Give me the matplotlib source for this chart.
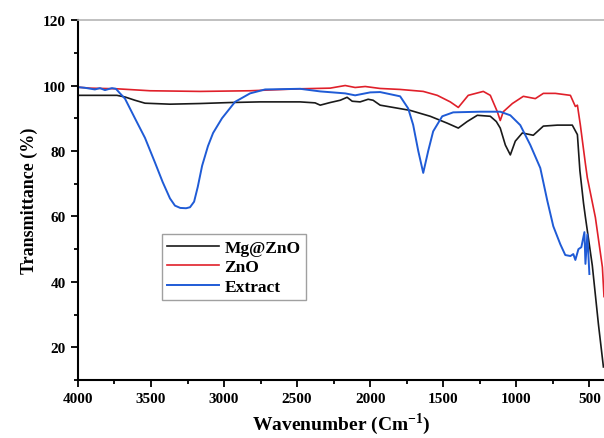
import matplotlib
matplotlib.use('Agg')
import matplotlib.pyplot as plt
from matplotlib.ticker import MultipleLocator

plt.rcParams['font.family'] = ['Liberation Serif', 'DejaVu Serif']
plt.rcParams['font.weight'] = 'bold'
plt.rcParams['mathtext.fontset'] = 'custom'
plt.rcParams['mathtext.bf'] = 'Liberation Serif:bold'

# Mg@ZnO
mg_wn = [4000, 3733, 3678, 3610, 3541, 3370, 3164, 2959, 2753, 2480, 2377, 2342, 2274,
         2205, 2158, 2123, 2069, 2014, 1980, 1932, 1829, 1726, 1589, 1473, 1397, 1336,
         1267, 1178, 1137, 1110, 1075, 1041, 1007, 959, 884, 815, 719, 617, 582, 565,
         540, 527, 480, 438, 404]
mg_t = [97, 97, 96.5, 95.5, 94.6, 94.3, 94.5, 94.8, 95, 95, 94.7, 94, 94.8,
        95.5, 96.4, 95.2, 95, 95.8, 95.5, 94, 93.2, 92.4, 90.6, 88.5, 87, 89,
        90.9, 90.6, 89, 87, 81.8, 78.8, 83, 85.5, 84.8, 87.6, 87.9, 87.9, 85, 74,
        64, 59.7, 45, 27, 14]

# ZnO
zno_wn = [4000, 3918, 3733, 3507, 3164, 2822, 2480, 2274, 2171, 2103, 2034, 1932, 1795,
          1637, 1541, 1452, 1397, 1329, 1226, 1178, 1130, 1110, 1089, 1027, 952, 870,
          815, 733, 630, 596, 582, 562, 527, 514, 459, 411, 400]
zno_t = [99.5, 99.2, 99, 98.4, 98.2, 98.4, 99, 99.2, 100, 99.4, 99.7, 99.1, 98.8,
         98.2, 97, 95, 93.3, 97, 98.2, 97, 92, 89.3, 92, 94.5, 96.7, 96,
         97.6, 97.6, 97, 93.6, 94, 88, 76, 71.8, 59.7, 44.5, 35.5]

# Extract
ext_wn = [4000, 3952, 3884, 3849, 3815, 3767, 3740, 3712, 3678, 3610, 3541, 3473, 3420,
          3370, 3336, 3300, 3260, 3233, 3205, 3180, 3150, 3110, 3075, 3014, 2925, 2822,
          2719, 2480, 2342, 2171, 2103, 2000, 1932, 1795, 1740, 1706, 1671, 1637, 1603,
          1569, 1507, 1432, 1247, 1110, 1041, 973, 904, 836, 788, 747, 699, 665, 630, 610,
          596, 575, 555, 534, 527, 514, 500]
ext_t = [99.5, 99.3, 98.8, 99.2, 98.6, 99.2, 99, 97.6, 96, 90, 84, 76.5, 70.5,
         65.5, 63.3, 62.6, 62.5, 62.8, 64.5, 69, 75.5, 81.5, 85.5, 90, 95, 97.6,
         98.8, 99, 98.2, 97.6, 97, 97.9, 98, 96.7, 93, 88, 80, 73.3, 80,
         86, 90.6, 91.8, 92, 92, 90.9, 87.9, 81.8, 74.8, 64.8, 57, 51.5, 48.2, 47.9, 48.5,
         46.7, 50, 50.6, 55.2, 45.5, 54.5, 42.4]

fig = plt.figure(figsize=(6.04, 4.39), dpi=100)
ax = fig.add_axes([0.129, 0.132, 0.871, 0.820])

ax.plot(mg_wn, mg_t, color='#1a1a1a', lw=1.2, label='Mg@ZnO')
ax.plot(zno_wn, zno_t, color='#e0202a', lw=1.2, label='ZnO')
ax.plot(ext_wn, ext_t, color='#1f5bd6', lw=1.4, label='Extract')

ax.set_xlim(4000, 400)
ax.set_ylim(10, 120)
ax.xaxis.set_major_locator(MultipleLocator(500))
ax.xaxis.set_minor_locator(MultipleLocator(250))
ax.yaxis.set_major_locator(MultipleLocator(20))
ax.yaxis.set_minor_locator(MultipleLocator(10))
ax.tick_params(which='both', direction='out', width=1.3, labelsize=11)
ax.tick_params(which='major', length=5)
ax.tick_params(which='minor', length=3)

ax.spines['left'].set_linewidth(1.5)
ax.spines['bottom'].set_linewidth(1.5)
ax.spines['top'].set_color('#b5b5b5')
ax.spines['top'].set_linewidth(1.2)
ax.spines['right'].set_visible(False)

ax.set_xlabel('Wavenumber (Cm$^{\\mathbf{-1}}$)', fontsize=14, fontweight='bold')
ax.set_ylabel('Transmittance (%)', fontsize=13, fontweight='bold')

leg = ax.legend(loc='upper left', bbox_to_anchor=(0.16, 0.405), fontsize=12.5,
                frameon=True, fancybox=False, handlelength=3.0, borderpad=0.3,
                labelspacing=0.2, handletextpad=0.3, borderaxespad=0)
leg.get_frame().set_edgecolor('#888888')
leg.get_frame().set_linewidth(1.0)

fig.savefig('out.png', dpi=100)
